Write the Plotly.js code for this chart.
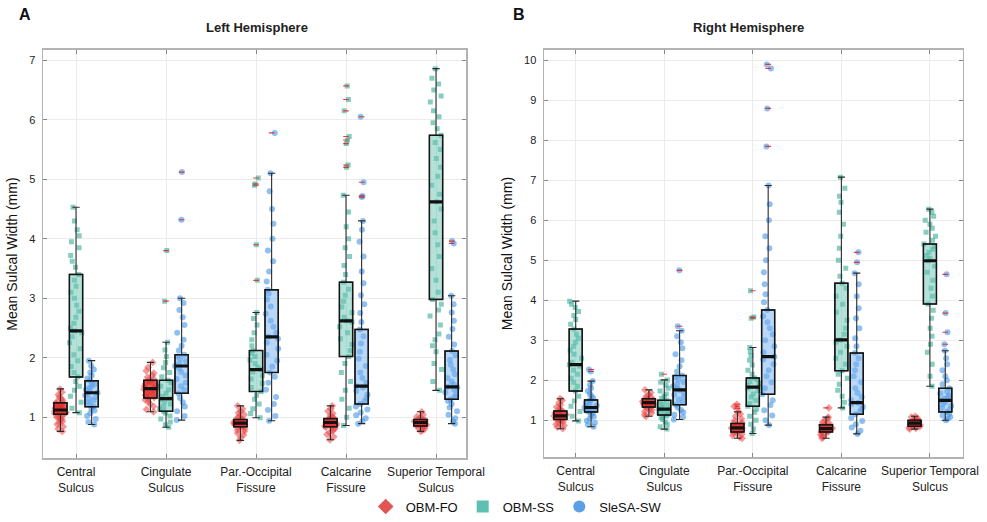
<!DOCTYPE html>
<html><head><meta charset="utf-8">
<script src="https://cdn.plot.ly/plotly-3.0.1.min.js"></script>
<style>html,body{margin:0;padding:0;background:#fff}</style>
</head><body><div id="chart" style="width:987px;height:522px"></div>
<script>
// ---------- DATA ----------
const categories = ['Central Sulcus','Cingulate Sulcus','Par.-Occipital Fissure','Calcarine Fissure','Superior Temporal Sulcus'];
const tickLabels = ['Central<br>Sulcus','Cingulate<br>Sulcus','Par.-Occipital<br>Fissure','Calcarine<br>Fissure','Superior Temporal<br>Sulcus'];
const groupNames = ['OBM-FO','OBM-SS','SleSA-SW'];
const leftYTicks = [1,2,3,4,5,6,7];
const rightYTicks = [1,2,3,4,5,6,7,8,9,10];

// Left hemisphere box statistics (one value per category)
const leftFO_q1  = [1.05, 1.32, 0.84, 0.84, 0.85];
const leftFO_med = [1.12, 1.48, 0.90, 0.91, 0.91];
const leftFO_q3  = [1.24, 1.62, 0.96, 0.975, 0.96];
const leftFO_lo  = [0.76, 1.09, 0.61, 0.62, 0.76];
const leftFO_hi  = [1.475, 1.92, 1.19, 1.19, 1.09];

const leftSS_q1  = [1.675, 1.10, 1.43, 2.02, 2.98];
const leftSS_med = [2.45, 1.31, 1.80, 2.62, 4.62];
const leftSS_q3  = [3.40, 1.62, 2.12, 3.27, 5.74];
const leftSS_lo  = [1.075, 0.83, 0.99, 0.86, 1.45];
const leftSS_hi  = [4.53, 2.26, 2.76, 4.73, 6.86];

const leftSW_q1  = [1.175, 1.40, 1.75, 1.22, 1.30];
const leftSW_med = [1.41, 1.86, 2.35, 1.52, 1.51];
const leftSW_q3  = [1.61, 2.05, 3.14, 2.475, 2.11];
const leftSW_lo  = [0.875, 0.95, 0.94, 0.89, 0.89];
const leftSW_hi  = [1.95, 3.00, 5.10, 4.30, 3.04];

// Right hemisphere box statistics
const rightFO_q1  = [1.02, 1.33, 0.71, 0.71, 0.85];
const rightFO_med = [1.11, 1.44, 0.81, 0.79, 0.93];
const rightFO_q3  = [1.23, 1.54, 0.92, 0.89, 1.00];
const rightFO_lo  = [0.79, 1.10, 0.55, 0.55, 0.78];
const rightFO_hi  = [1.54, 1.76, 1.21, 1.08, 1.10];

const rightSS_q1  = [1.73, 1.13, 1.35, 2.24, 3.91];
const rightSS_med = [2.39, 1.28, 1.83, 3.01, 4.99];
const rightSS_q3  = [3.28, 1.50, 2.06, 4.43, 5.41];
const rightSS_lo  = [0.985, 0.78, 0.67, 1.31, 1.85];
const rightSS_hi  = [3.98, 2.01, 2.82, 7.08, 6.28];

const rightSW_q1  = [1.21, 1.39, 1.65, 1.15, 1.21];
const rightSW_med = [1.32, 1.76, 2.59, 1.44, 1.50];
const rightSW_q3  = [1.51, 2.12, 3.76, 2.68, 1.80];
const rightSW_lo  = [0.84, 1.02, 0.88, 0.66, 1.00];
const rightSW_hi  = [1.98, 3.24, 6.87, 4.68, 2.74];

// Individual subject values (one list per category)
const leftFO_pts = [
  [0.76,0.8,0.84,0.88,0.9,0.93,0.95,0.97,0.99,1.0,1.02,1.03,1.05,1.06,1.07,1.08,1.09,1.1,1.11,1.12,1.12,1.13,1.14,1.15,1.16,1.17,1.18,1.2,1.21,1.23,1.24,1.26,1.28,1.31,1.34,1.38,1.42,1.47],
  [1.09,1.13,1.18,1.22,1.26,1.29,1.31,1.33,1.35,1.37,1.39,1.41,1.43,1.45,1.47,1.48,1.5,1.52,1.54,1.56,1.58,1.6,1.62,1.64,1.67,1.7,1.74,1.78,1.84,1.92],
  [0.61,0.66,0.7,0.73,0.76,0.78,0.8,0.82,0.84,0.85,0.86,0.87,0.88,0.89,0.9,0.9,0.91,0.92,0.93,0.94,0.95,0.96,0.97,0.99,1.01,1.04,1.07,1.1,1.14,1.19],
  [0.62,0.67,0.71,0.74,0.77,0.79,0.81,0.83,0.84,0.85,0.86,0.87,0.88,0.89,0.9,0.91,0.92,0.93,0.94,0.95,0.96,0.97,0.98,1.0,1.03,1.06,1.1,1.14,1.19],
  [0.76,0.78,0.8,0.82,0.83,0.84,0.85,0.86,0.87,0.88,0.89,0.9,0.9,0.91,0.92,0.93,0.94,0.95,0.96,0.97,0.99,1.01,1.04,1.09]
];
const leftSS_pts = [
  [1.075,1.15,1.25,1.35,1.45,1.52,1.6,1.68,1.75,1.85,1.95,2.05,2.15,2.25,2.35,2.42,2.45,2.5,2.58,2.68,2.78,2.88,3.0,3.1,3.2,3.3,3.4,3.52,3.62,3.72,3.85,3.95,4.05,4.15,4.3,4.53],
  [0.83,0.87,0.92,0.97,1.02,1.07,1.1,1.14,1.18,1.22,1.26,1.3,1.31,1.35,1.4,1.46,1.52,1.58,1.62,1.68,1.75,1.83,1.92,2.02,2.13,2.26,2.95,3.8],
  [0.99,1.06,1.14,1.22,1.3,1.37,1.43,1.5,1.57,1.64,1.7,1.76,1.8,1.84,1.9,1.96,2.02,2.08,2.12,2.2,2.3,2.42,2.55,2.66,2.76,3.3,3.9,4.9,4.92,5.02],
  [0.86,1.0,1.15,1.3,1.45,1.6,1.75,1.9,2.02,2.12,2.22,2.32,2.42,2.52,2.6,2.62,2.68,2.76,2.85,2.95,3.05,3.15,3.27,3.4,3.55,3.7,3.85,4.0,4.2,4.45,4.73,5.2,5.24,5.6,5.66,5.72,6.15,6.34,6.57],
  [1.45,1.6,1.8,1.9,2.1,2.2,2.3,2.4,2.55,2.7,2.8,2.9,2.98,3.1,3.3,3.5,3.7,3.9,4.1,4.3,4.5,4.62,4.75,4.9,5.05,5.2,5.35,5.5,5.62,5.74,5.85,5.95,6.05,6.15,6.3,6.4,6.5,6.6,6.7,6.86]
];
const leftSW_pts = [
  [0.875,0.92,0.97,1.02,1.07,1.11,1.15,1.18,1.21,1.25,1.28,1.31,1.34,1.37,1.4,1.41,1.43,1.46,1.49,1.52,1.55,1.58,1.61,1.65,1.7,1.75,1.8,1.86,1.95],
  [0.95,1.02,1.1,1.18,1.25,1.32,1.4,1.46,1.52,1.58,1.64,1.7,1.76,1.82,1.86,1.9,1.94,1.98,2.02,2.05,2.12,2.2,2.3,2.42,2.55,2.68,2.8,2.92,3.0,4.32,5.12],
  [0.94,1.02,1.12,1.22,1.34,1.46,1.58,1.68,1.75,1.85,1.95,2.05,2.15,2.25,2.32,2.35,2.42,2.52,2.62,2.74,2.86,2.98,3.08,3.14,3.28,3.45,3.62,3.8,4.0,4.25,4.5,4.8,5.1,5.78],
  [0.89,0.93,0.98,1.03,1.08,1.13,1.18,1.22,1.27,1.32,1.38,1.44,1.5,1.52,1.58,1.66,1.75,1.86,1.98,2.1,2.24,2.36,2.475,2.6,2.75,2.9,3.05,3.25,3.45,3.7,3.95,4.15,4.3,4.7,4.72,4.95,6.05],
  [0.89,0.93,0.98,1.04,1.1,1.16,1.22,1.27,1.3,1.34,1.38,1.42,1.46,1.5,1.51,1.55,1.6,1.66,1.72,1.8,1.88,1.96,2.04,2.11,2.22,2.35,2.48,2.62,2.76,2.9,3.04,3.92,3.96]
];
const rightFO_pts = [
  [0.79,0.83,0.87,0.9,0.93,0.96,0.99,1.01,1.02,1.04,1.06,1.08,1.1,1.11,1.12,1.14,1.16,1.18,1.2,1.22,1.23,1.26,1.29,1.33,1.38,1.44,1.5,1.54],
  [1.1,1.14,1.18,1.22,1.26,1.29,1.31,1.33,1.35,1.37,1.39,1.41,1.43,1.44,1.45,1.47,1.49,1.51,1.53,1.54,1.57,1.6,1.64,1.69,1.76],
  [0.55,0.58,0.62,0.65,0.68,0.7,0.71,0.73,0.75,0.77,0.79,0.8,0.81,0.83,0.85,0.87,0.89,0.91,0.92,0.95,0.99,1.04,1.1,1.16,1.21,1.3,1.35,1.4],
  [0.55,0.58,0.61,0.64,0.67,0.7,0.71,0.73,0.75,0.77,0.78,0.79,0.8,0.82,0.84,0.86,0.88,0.89,0.92,0.96,1.0,1.04,1.08,1.31],
  [0.78,0.8,0.82,0.84,0.85,0.86,0.88,0.9,0.91,0.92,0.93,0.94,0.95,0.96,0.98,0.99,1.0,1.02,1.05,1.08,1.1]
];
const rightSS_pts = [
  [0.985,1.1,1.22,1.35,1.48,1.6,1.73,1.85,1.95,2.05,2.15,2.25,2.35,2.39,2.45,2.55,2.65,2.75,2.85,2.95,3.05,3.15,3.28,3.4,3.52,3.62,3.72,3.82,3.9,3.98],
  [0.78,0.84,0.9,0.96,1.02,1.07,1.11,1.13,1.16,1.19,1.22,1.25,1.28,1.3,1.33,1.37,1.41,1.45,1.5,1.55,1.6,1.66,1.73,1.8,1.88,1.95,2.01,2.15],
  [0.67,0.78,0.9,1.0,1.1,1.2,1.28,1.35,1.42,1.5,1.58,1.66,1.74,1.8,1.83,1.87,1.92,1.97,2.02,2.06,2.15,2.25,2.38,2.5,2.62,2.72,2.82,3.55,3.58,4.24],
  [1.31,1.45,1.6,1.75,1.9,2.05,2.15,2.24,2.4,2.55,2.7,2.85,2.95,3.01,3.15,3.3,3.5,3.7,3.9,4.1,4.3,4.43,4.6,4.8,5.0,5.3,5.6,5.9,6.2,6.45,6.6,6.8,7.08],
  [1.85,2.1,2.4,2.7,2.9,3.1,3.3,3.55,3.75,3.91,4.1,4.3,4.5,4.7,4.85,4.99,5.05,5.12,5.2,5.28,5.35,5.41,5.5,5.6,5.7,5.8,5.9,6.0,6.1,6.2,6.28]
];
const rightSW_pts = [
  [0.84,0.89,0.94,0.99,1.04,1.09,1.13,1.17,1.21,1.24,1.27,1.29,1.31,1.32,1.34,1.37,1.4,1.44,1.48,1.51,1.55,1.6,1.66,1.73,1.8,1.88,1.98,2.22,2.27],
  [1.02,1.08,1.14,1.2,1.26,1.32,1.39,1.45,1.52,1.58,1.64,1.7,1.76,1.8,1.85,1.9,1.96,2.02,2.08,2.12,2.22,2.35,2.5,2.65,2.8,2.95,3.1,3.24,3.35,4.75],
  [0.88,1.0,1.12,1.25,1.38,1.5,1.65,1.8,1.95,2.1,2.25,2.4,2.52,2.59,2.7,2.85,3.0,3.15,3.3,3.45,3.6,3.76,3.95,4.15,4.4,4.7,5.0,5.3,5.6,6.0,6.4,6.87,7.85,8.8,9.8,9.9],
  [0.66,0.74,0.82,0.9,0.98,1.06,1.15,1.22,1.28,1.34,1.4,1.44,1.5,1.58,1.68,1.8,1.95,2.1,2.25,2.4,2.55,2.68,2.85,3.05,3.3,3.55,3.8,4.1,4.4,4.68,4.95,5.2],
  [1.0,1.04,1.08,1.12,1.16,1.21,1.26,1.31,1.36,1.41,1.46,1.5,1.54,1.58,1.62,1.67,1.72,1.8,1.9,2.0,2.1,2.25,2.4,2.55,2.74,2.9,3.2,3.68,4.65]
];

// ---------- STYLE ----------
const styles = {
  'OBM-FO':   {symbol:'diamond', pt:'rgba(235,70,70,0.55)',  fill:'rgba(225,30,30,0.6)',  leg:'#e25555', size:6},
  'OBM-SS':   {symbol:'square',  pt:'rgba(55,172,150,0.6)',  fill:'rgba(105,198,180,0.5)', leg:'#5dc0b3', size:5},
  'SleSA-SW': {symbol:'circle',  pt:'rgba(70,150,232,0.6)',  fill:'rgba(115,175,240,0.5)', leg:'#5b9fe6', size:6}
};

const hemis = [
  {ax:'x', ay:'y', ag:'L', groups:[
    {name:'OBM-FO', pts:leftFO_pts, q1:leftFO_q1, med:leftFO_med, q3:leftFO_q3, lo:leftFO_lo, hi:leftFO_hi},
    {name:'OBM-SS', pts:leftSS_pts, q1:leftSS_q1, med:leftSS_med, q3:leftSS_q3, lo:leftSS_lo, hi:leftSS_hi},
    {name:'SleSA-SW', pts:leftSW_pts, q1:leftSW_q1, med:leftSW_med, q3:leftSW_q3, lo:leftSW_lo, hi:leftSW_hi}]},
  {ax:'x2', ay:'y2', ag:'R', groups:[
    {name:'OBM-FO', pts:rightFO_pts, q1:rightFO_q1, med:rightFO_med, q3:rightFO_q3, lo:rightFO_lo, hi:rightFO_hi},
    {name:'OBM-SS', pts:rightSS_pts, q1:rightSS_q1, med:rightSS_med, q3:rightSS_q3, lo:rightSS_lo, hi:rightSS_hi},
    {name:'SleSA-SW', pts:rightSW_pts, q1:rightSW_q1, med:rightSW_med, q3:rightSW_q3, lo:rightSW_lo, hi:rightSW_hi}]}
];

const traces = [];
hemis.forEach(h => {
  h.groups.forEach(g => {
    const st = styles[g.name];
    const common = {xaxis:h.ax, yaxis:h.ay, offsetgroup:g.name, alignmentgroup:h.ag, showlegend:false, hoverinfo:'skip'};
    const px = [], py = [], ox = [], oy = [];
    g.pts.forEach((arr, i) => arr.forEach(v => {
      px.push(categories[i]); py.push(v);
      if (v > g.hi[i] + 1e-9 || v < g.lo[i] - 1e-9) { ox.push(categories[i]); oy.push(v); }
    }));
    // jittered individual points
    traces.push(Object.assign({type:'box', x:px, y:py,
      boxpoints:'all', jitter:1.0, pointpos:0, fillcolor:'rgba(0,0,0,0)',
      line:{width:0, color:'rgba(0,0,0,0)'},
      marker:{symbol:st.symbol, size:st.size, color:st.pt, line:{width:0}}}, common));
    // box with whiskers (thin, dark grey whiskers)
    traces.push(Object.assign({type:'box', x:categories, q1:g.q1, median:g.med, q3:g.q3,
      lowerfence:g.lo, upperfence:g.hi, boxpoints:false, fillcolor:st.fill, whiskerwidth:0.55,
      line:{color:'#2a2a2a', width:1.1}}, common));
    // box outline (stronger)
    traces.push(Object.assign({type:'box', x:categories, q1:g.q1, median:g.med, q3:g.q3,
      lowerfence:g.q1, upperfence:g.q3, boxpoints:false, fillcolor:'rgba(0,0,0,0)', whiskerwidth:0,
      line:{color:'#151515', width:1.5}}, common));
    // thick median line
    traces.push(Object.assign({type:'box', x:categories, q1:g.med, median:g.med, q3:g.med,
      lowerfence:g.med, upperfence:g.med, boxpoints:false, fillcolor:'rgba(0,0,0,0)', whiskerwidth:0,
      line:{color:'#111', width:3.2}}, common));
    // outlier markers
    if (oy.length) {
      traces.push(Object.assign({type:'box', x:ox, y:oy,
        boxpoints:'all', jitter:0, pointpos:0, fillcolor:'rgba(0,0,0,0)',
        line:{width:0, color:'rgba(0,0,0,0)'},
        marker:{symbol:'line-ew', size:4, color:'red', line:{width:1.1, color:'rgba(230,30,30,0.85)'}}}, common));
    }
  });
});
// legend entries
groupNames.forEach(n => {
  traces.push({type:'scatter', mode:'markers', x:[null], y:[null], name:n, xaxis:'x', yaxis:'y',
    marker:{symbol:styles[n].symbol, size:12, color:styles[n].leg}, hoverinfo:'skip'});
});

const font = 'Liberation Sans, Arial, sans-serif';
const xCommon = {type:'category', categoryorder:'array', categoryarray:categories,
  tickmode:'array', tickvals:categories, ticktext:tickLabels,
  showgrid:true, gridcolor:'#ebebeb', gridwidth:1, zeroline:false,
  showline:true, linecolor:'#b3b3b3', linewidth:1.5, mirror:'ticks',
  ticks:'inside', ticklen:4, tickcolor:'#888', tickwidth:1,
  tickfont:{family:font, size:12, color:'#222'}, ticklabelstandoff:2};
const yCommon = {showgrid:true, gridcolor:'#ebebeb', gridwidth:1, zeroline:false,
  showline:true, linecolor:'#b3b3b3', linewidth:1.5, mirror:'ticks',
  ticks:'inside', ticklen:4, tickcolor:'#888', tickwidth:1,
  tickfont:{family:font, size:11, color:'#222'}, ticklabelstandoff:4,
  title:{text:'Mean Sulcal Width (mm)', font:{family:font, size:14, color:'#111'}, standoff:8}};

const layout = {
  width:987, height:522, paper_bgcolor:'#fff', plot_bgcolor:'#fff',
  margin:{l:0, r:0, t:0, b:0},
  boxmode:'group', boxgap:0.48, boxgroupgap:0.15,
  showlegend:true,
  legend:{orientation:'h', x:0.523, xanchor:'center', y:0.022, yanchor:'middle',
    font:{family:font, size:13, color:'#111'}, itemwidth:30},
  xaxis: Object.assign({}, xCommon, {domain:[43/987, 466/987], range:[-0.367, 4.333], anchor:'y'}),
  xaxis2: Object.assign({}, xCommon, {domain:[544/987, 962.7/987], range:[-0.358, 4.37], anchor:'y2'}),
  yaxis: Object.assign({}, yCommon, {domain:[60/522, 472/522], range:[0.305, 7.18], tickvals:leftYTicks, anchor:'x'}),
  yaxis2: Object.assign({}, yCommon, {domain:[61/522, 472/522], range:[0.07, 10.27], tickvals:rightYTicks, anchor:'x2'}),
  annotations:[
    {text:'<b>Left Hemisphere</b>', xref:'paper', yref:'paper', x:257/987, y:1-28/522, showarrow:false, xanchor:'center', yanchor:'middle', font:{family:font, size:13, color:'#222'}},
    {text:'<b>Right Hemisphere</b>', xref:'paper', yref:'paper', x:748/987, y:1-28/522, showarrow:false, xanchor:'center', yanchor:'middle', font:{family:font, size:13, color:'#222'}},
    {text:'<b>A</b>', xref:'paper', yref:'paper', x:25/987, y:1-15/522, showarrow:false, xanchor:'center', yanchor:'middle', font:{family:font, size:16, color:'#111'}},
    {text:'<b>B</b>', xref:'paper', yref:'paper', x:519/987, y:1-15/522, showarrow:false, xanchor:'center', yanchor:'middle', font:{family:font, size:16, color:'#111'}}
  ]
};
Plotly.newPlot('chart', traces, layout, {displayModeBar:false, staticPlot:true});
</script></body></html>
